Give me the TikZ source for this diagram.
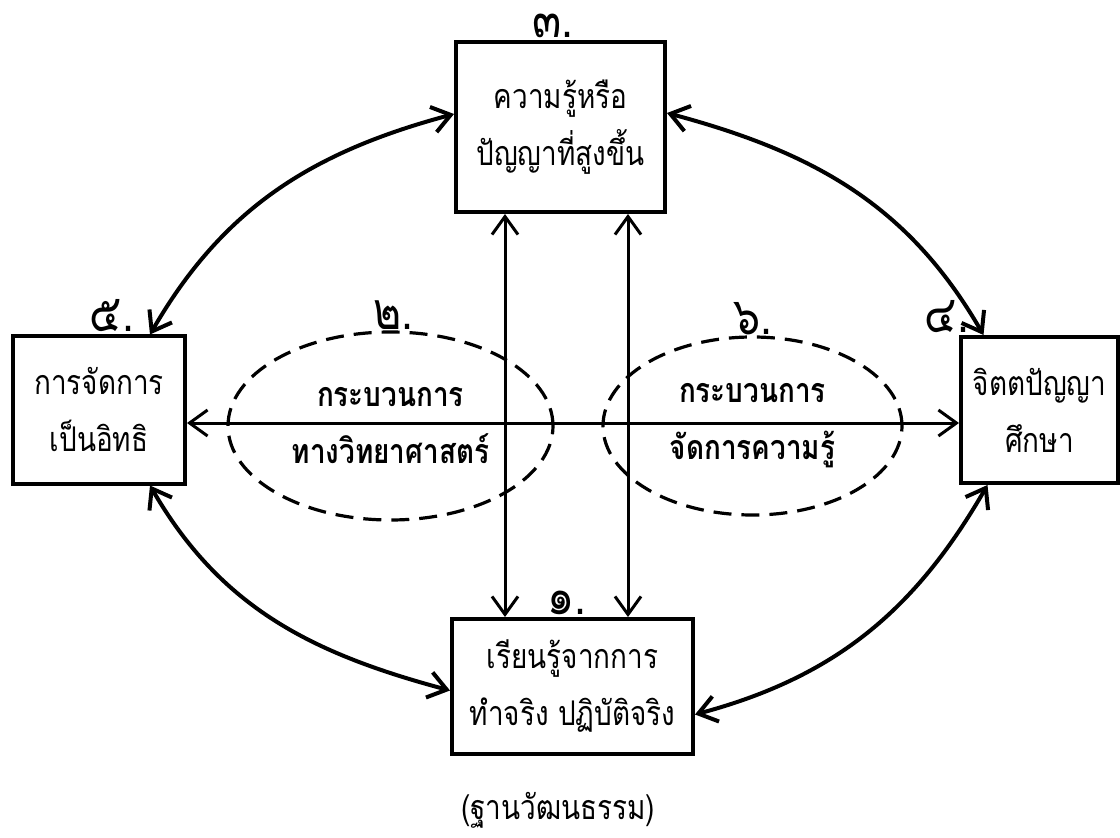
\documentclass[tikz,border=0pt]{standalone}
\usepackage{fontspec}
\newfontfamily\thai[Script=Thai, FakeStretch=0.82]{Loma}
\usetikzlibrary{arrows.meta,
                positioning,
                shapes.geometric
                }
\begin{document}
\begin{tikzpicture}[x=0.5pt, y=0.5pt,
    box/.style = {draw, line width=2pt, align=center, inner sep=0pt,
                  font=\thai\fontsize{17}{28.5}\selectfont},
   oval/.style = {shape=ellipse, draw, dash pattern=on 9pt off 5pt,
                  line width=1.6pt, align=center, inner sep=0pt,
                  font=\thai\bfseries\fontsize{17}{28.5}\selectfont},
    num/.style = {font=\thai\fontsize{26}{26}\selectfont, inner sep=1pt},
    arr/.style = {{Straight Barb[length=9pt,width=13pt]}-{Straight Barb[length=9pt,width=13pt]},
                  line width=1.5pt},
   curv/.style = {arr, line width=2pt}
                    ]
\useasboundingbox (0,0) rectangle (1120,837);
% boxes
\node (n3) [box, minimum width=104.5pt, minimum height=85pt]   at (560.5,710) {ความรู้หรือ\\ ปัญญาที่สูงขึ้น};
\node (n5) [box, minimum width=86pt, minimum height=73.5pt]    at (99,427)    {การจัดการ\\ เป็นอิทธิ};
\node (n4) [box, minimum width=78.5pt, minimum height=73pt]    at (1039.5,427) {จิตตปัญญา\\ ศึกษา};
\node (n1) [box, minimum width=120.5pt, minimum height=67.5pt] at (572.5,150.5) {เรียนรู้จากการ\\ ทำจริง ปฏิบัติจริง};
% dashed ovals
\node (e2) [oval, minimum width=162.5pt, minimum height=94pt] at (390.5,411) {กระบวนการ\\ ทางวิทยาศาสตร์};
\node (e6) [oval, minimum width=149.5pt, minimum height=89pt] at (752.5,411) {กระบวนการ\\ จัดการความรู้};
% numbers
\node[num, above=0pt of n3.north, xshift=-4pt]     {๓.};
\node[num, above=0pt of n5.north, xshift=6.5pt]    {๕.};
\node[num, above=0pt of n4.north, xshift=-46.25pt] {๔.};
\node[num, above=0pt of n1.north, xshift=-2.75pt]  {๑.};
\node[num, above=-1pt of e2.north, xshift=1.25pt]  {๒.};
\node[num, above=-1pt of e6.north]                 {๖.};
% straight arrows
\draw[arr] ([xshift=-27.75pt]n3.south) -- ([xshift=-27.75pt]n3.south |- n1.north);
\draw[arr] ([xshift=33.75pt]n3.south)  -- ([xshift=33.75pt]n3.south |- n1.north);
\draw[arr] ([yshift=-6.5pt]n5.east)    -- ([yshift=-6.5pt]n5.east -| n4.west);
% curved arrows
\draw[curv] ([yshift=6.5pt]n3.west) to[out=195, in=60]  ([xshift=25.5pt]n5.north);
\draw[curv] ([yshift=7pt]n3.east)   to[out=-15, in=120] ([xshift=-28pt]n4.north);
\draw[curv] ([xshift=25.5pt]n5.south) to[out=-60, in=165] ([yshift=-2pt]n1.west);
\draw[curv] ([xshift=-26pt]n4.south)  to[out=240, in=15]  ([yshift=-14pt]n1.east);
\node (cap) [font=\thai\fontsize{17}{20}\selectfont] at (558,27) {(ฐานวัฒนธรรม)};
\end{tikzpicture}
\end{document}
